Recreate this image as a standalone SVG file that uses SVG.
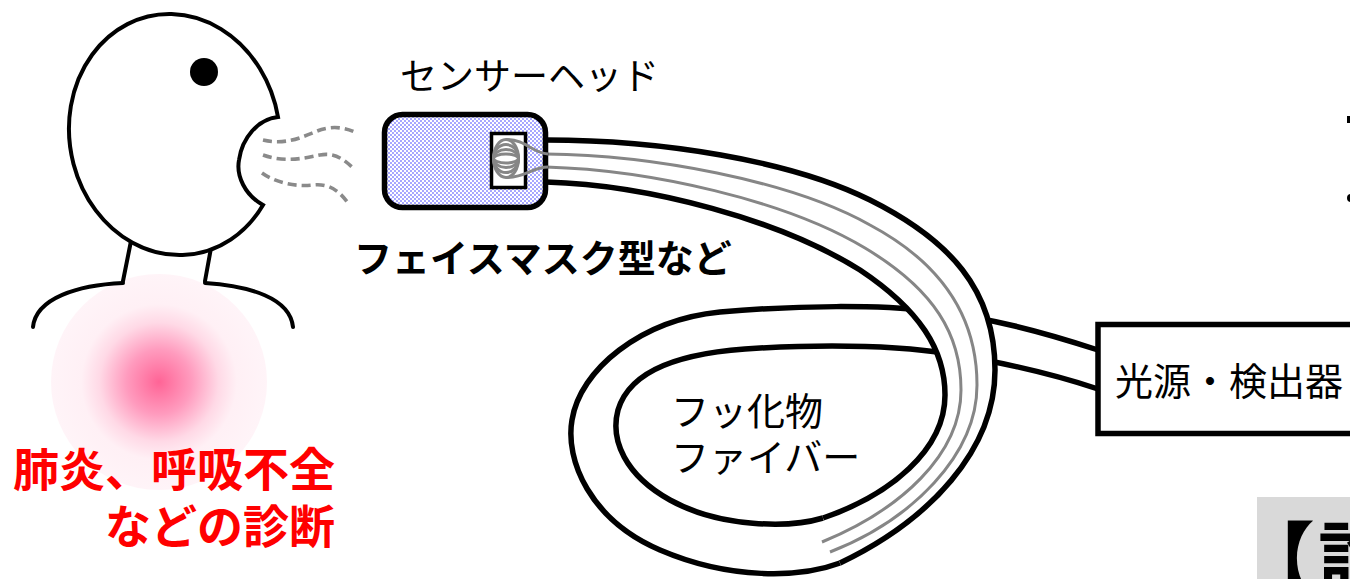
<svg xmlns="http://www.w3.org/2000/svg" width="1350" height="579" viewBox="0 0 1350 579">
  <defs>
    <radialGradient id="glow" cx="0.5" cy="0.5" r="0.5">
      <stop offset="0" stop-color="#ff6496"/>
      <stop offset="0.3" stop-color="#ff9bbe"/>
      <stop offset="0.55" stop-color="#ffd9e6"/>
      <stop offset="0.72" stop-color="#fff0f5"/>
      <stop offset="1" stop-color="#fff4f8"/>
    </radialGradient>
    <pattern id="dots" width="4" height="4" patternUnits="userSpaceOnUse">
      <rect width="4" height="4" fill="#ffffff"/>
      <circle cx="1" cy="1" r="0.72" fill="#2020ff"/>
      <circle cx="3" cy="3" r="0.72" fill="#2020ff"/>
    </pattern>
    <style>
      .line { fill: none; stroke: #000; stroke-width: 4; stroke-linecap: round; }
      .edge { fill: none; stroke: #000; stroke-width: 5.5; }
      .core { fill: none; stroke: #868686; stroke-width: 3; }
      .breath { fill: none; stroke: #8a8a8a; stroke-width: 3.6; stroke-dasharray: 9 5; }
      .jp { font-family: "Noto Sans CJK JP", "Noto Sans", sans-serif; fill: #000; }
    </style>
  </defs>

  <rect width="1350" height="579" fill="#ffffff"/>

  <!-- patient -->
  <g id="patient">
    <circle cx="159" cy="382" r="108" fill="url(#glow)"/>
    <path class="line" d="M132,236 L123,281"/>
    <path class="line" d="M211,248 L205,281"/>
    <path class="line" d="M123,283 C78,285 36,298 33,327"/>
    <path class="line" d="M205,283 C250,286 290,298 293,327"/>
    <path d="M278,117 A105,121 -10 1 0 263,205 C245,195 236,176 239,160 C242,138 258,119 278,117 Z" fill="#fff" stroke="#000" stroke-width="4" stroke-linejoin="miter"/>
    <circle cx="204" cy="72" r="14" fill="#000"/>
  </g>

  <!-- exhaled breath -->
  <g id="breath">
    <path class="breath" d="M263,140 C285,145 300,138 315,132 C330,125 345,127 357,133"/>
    <path class="breath" d="M263,155 C285,163 305,158 320,155 C335,152 345,160 355,170"/>
    <path class="breath" d="M262,173 C276,183 296,187 313,185 C330,183 340,192 348,203"/>
  </g>

  <!-- fluoride fiber -->
  <g id="connectors">
    <!-- loop section, passing under the sensor-side run -->
    <path class="edge" d="M840,563 C800,578 730,580 660,550 C590,520 565,460 572,420 C580,370 640,320 720,312 C800,305 880,305 930,311 C990,318 1040,331 1098,350"/>
    <path class="edge" d="M823,518 C790,528 720,528 670,500 C625,475 610,440 618,410 C630,370 680,352 760,348 C840,344 900,346 950,354 C1000,362 1050,373 1098,389"/>
    <!-- sensor-side run -->
    <path fill="#fff" d="M546,140 C660,140 790,160 870,200 C950,240 995,290 995,370 C995,450 930,520 840,563 L823,518 C890,495 945,450 945,395 C945,350 920,310 860,270 C780,220 650,185 546,182 Z"/>
    <path class="edge" d="M546,140 C660,140 790,160 870,200 C950,240 995,290 995,370 C995,450 930,520 840,563"/>
    <path class="edge" d="M546,182 C650,185 780,220 860,270 C920,310 945,350 945,395 C945,450 890,495 823,518"/>
    <path class="core" d="M546,154 C650,155 790,180 870,225 C945,265 977,320 977,385 C977,455 912,520 830,552"/>
    <path class="core" d="M546,167 C650,170 785,200 865,248 C935,290 961,335 961,390 C961,455 900,510 822,542"/>
  </g>

  <!-- sensor head -->
  <g id="sensor-head">
    <rect x="384.5" y="114.5" width="161" height="93" rx="18" fill="url(#dots)" stroke="#000" stroke-width="5.5"/>
    <rect x="491.5" y="133.5" width="34" height="54" fill="#fff" stroke="#000" stroke-width="3.5"/>
    <g class="core" stroke-width="2.8">
      <ellipse cx="506" cy="158.5" rx="12.5" ry="19"/>
      <ellipse cx="506" cy="158.5" rx="12.5" ry="14"/>
      <ellipse cx="506" cy="158.5" rx="12.5" ry="9"/>
      <ellipse cx="506" cy="158.5" rx="12.5" ry="4.5"/>
      <path d="M506,139.5 C526,139.5 532,153 548,154"/>
      <path d="M506,177.5 C526,177.5 532,167 548,167"/>
    </g>
    <text class="jp" x="400" y="90" font-size="37">センサーヘッド</text>
    <text class="jp" x="354" y="272" font-size="38" font-weight="bold">フェイスマスク型など</text>
  </g>

  <g id="fiber-label">
    <text class="jp" x="671" y="425" font-size="38">フッ化物</text>
    <text class="jp" x="671" y="471" font-size="38">ファイバー</text>
  </g>

  <!-- light source / detector -->
  <g id="source-detector">
    <rect x="1098" y="324.5" width="300" height="109" fill="#fff" stroke="#000" stroke-width="5.5"/>
    <text class="jp" x="1115" y="395" font-size="38">光源・検出器</text>
  </g>

  <g id="diagnosis">
    <text class="jp" x="335" y="486" font-size="46" font-weight="bold" text-anchor="end" style="fill:#ff0000">肺炎、呼吸不全</text>
    <text class="jp" x="335" y="543" font-size="46" font-weight="bold" text-anchor="end" style="fill:#ff0000">などの診断</text>
  </g>

  <!-- marks at the right margin -->
  <g id="edge-marks">
    <rect x="1347" y="116" width="3" height="7" fill="#000"/>
    <circle cx="1351" cy="198" r="4" fill="#000"/>
  </g>

  <g id="caption">
    <rect x="1257" y="497" width="100" height="90" fill="#d9d9d9"/>
    <text class="jp" x="1235" y="588" font-size="80" font-weight="bold">【</text>
    <text class="jp" x="1318" y="588" font-size="80" font-weight="bold">診</text>
  </g>
</svg>
